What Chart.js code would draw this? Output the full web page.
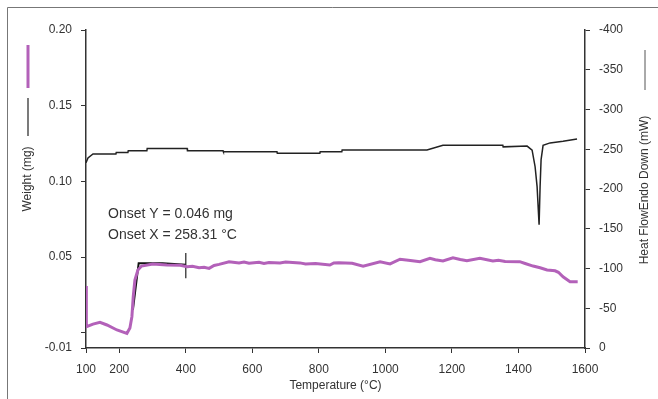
<!DOCTYPE html>
<html>
<head>
<meta charset="utf-8">
<script src="https://cdn.jsdelivr.net/npm/chart.js@4.4.1/dist/chart.umd.min.js"></script>
<style>
  html, body { margin: 0; padding: 0; background: #fff; }
  #wrap { width: 658px; height: 399px; }
</style>
</head>
<body>
<div id="wrap"><canvas id="tgaChart" width="658" height="399"></canvas></div>
<script>
// temperature ticks on the x axis
const tempTicks = [100, 200, 400, 600, 800, 1000, 1200, 1400, 1600];
const weightTicks = [-0.01, 0, 0.05, 0.10, 0.15, 0.20];

// weight curve (mg)
const weightTemp = [100, 101, 121, 142, 163, 193, 223, 232, 238, 242, 247, 256, 267, 301, 343, 383,
  404, 420, 440, 455, 470, 485, 500, 530, 560, 575, 590, 620, 635, 650, 683, 700, 743, 760, 790, 833, 845, 860, 900, 933, 984, 1014, 1044,
  1075, 1104, 1134, 1150, 1173, 1203, 1225, 1245, 1284, 1323, 1340, 1360, 1404, 1420, 1444, 1465, 1486, 1510, 1520, 1534, 1555, 1578];
const weightVal = [0.031, 0.004, 0.0058, 0.0070, 0.0052, 0.0019, -0.0003, 0.0032, 0.0107, 0.0239, 0.0349, 0.0415, 0.0441, 0.0455, 0.0448, 0.0446,
  0.0437, 0.0440, 0.0430, 0.0433, 0.0426, 0.0445, 0.0452, 0.0470, 0.0462, 0.0468, 0.0460, 0.0466, 0.0458, 0.0465, 0.0462, 0.0468, 0.0462, 0.0455, 0.0458, 0.0448, 0.0462, 0.0463, 0.0460, 0.0441, 0.0470, 0.0455, 0.0486,
  0.0478, 0.0470, 0.0492, 0.0483, 0.0475, 0.0496, 0.0484, 0.0476, 0.0492, 0.0475, 0.0480, 0.0472, 0.0470, 0.0458, 0.0441, 0.0430, 0.0415, 0.0410, 0.0400, 0.0370, 0.0338, 0.0338];

// heat flow curve (mW)
const heatTemp = [100, 106, 121, 190, 191, 226, 227, 283, 284, 404, 405, 512, 513, 674, 675, 803, 804, 869, 870,
  1125, 1173, 1353, 1354, 1426, 1441, 1450, 1456, 1462, 1465, 1468, 1474, 1495, 1534, 1576];
const heatVal = [-233, -239, -244, -244, -246, -246, -248, -248, -251, -251, -248, -248, -247, -247, -245, -245, -247, -247, -249,
  -249, -255, -255, -253, -254, -249, -228, -203, -155, -203, -237, -255, -258, -260, -263];

// onset construction
const onsetTemp = [241, 258.31, 330, 400];
const onsetVal = [0.0152, 0.046, 0.046, 0.045];
const markerTemp = [400, 400];
const markerVal = [0.0527, 0.036];

const onsetLines = ['Onset Y = 0.046 mg', 'Onset X = 258.31 \u00b0C'];

function pts(xs, ys) { return xs.map((x, i) => ({ x: x, y: ys[i] })); }

const FONT = 'Liberation Sans, Arial, sans-serif';
const PURPLE = '#b361b9';

const extras = {
  id: 'extras',
  afterDraw(chart) {
    const c = chart.ctx;
    c.save();
    // outer frame
    c.strokeStyle = '#777';
    c.lineWidth = 1;
    c.beginPath();
    c.moveTo(7.5, 399); c.lineTo(7.5, 7.5); c.lineTo(658, 7.5);
    c.stroke();

    // left title with legend lines
    c.lineWidth = 3;
    c.strokeStyle = PURPLE;
    c.beginPath(); c.moveTo(28, 45); c.lineTo(28, 88); c.stroke();
    c.lineWidth = 1.3;
    c.strokeStyle = '#333';
    c.beginPath(); c.moveTo(28, 98); c.lineTo(28, 136); c.stroke();
    c.fillStyle = '#333';
    c.font = '12px ' + FONT;
    c.textAlign = 'center';
    c.textBaseline = 'middle';
    c.save(); c.translate(28, 179); c.rotate(-Math.PI / 2); c.fillText('Weight (mg)', 0, 0); c.restore();

    // right title
    c.strokeStyle = '#555';
    c.lineWidth = 1;
    c.beginPath(); c.moveTo(645, 50); c.lineTo(645, 90); c.stroke();
    c.save(); c.translate(645, 190); c.rotate(-Math.PI / 2); c.fillText('Heat FlowEndo Down (mW)', 0, 0); c.restore();

    // onset annotation
    c.font = '14px ' + FONT;
    c.textAlign = 'left';
    c.fillText(onsetLines[0], 108, 214);
    c.fillText(onsetLines[1], 108, 235);
    c.restore();
  }
};

new Chart(document.getElementById('tgaChart'), {
  type: 'line',
  data: {
    datasets: [
      { data: pts(weightTemp, weightVal), yAxisID: 'y', borderColor: PURPLE, borderWidth: 3, pointRadius: 0, tension: 0 },
      { data: pts(heatTemp, heatVal), yAxisID: 'y2', borderColor: '#222', borderWidth: 1.5, pointRadius: 0, tension: 0 },
      { data: pts(onsetTemp, onsetVal), yAxisID: 'y', borderColor: '#111', borderWidth: 2, pointRadius: 0, tension: 0 },
      { data: pts(markerTemp, markerVal), yAxisID: 'y', borderColor: '#222', borderWidth: 1.2, pointRadius: 0, tension: 0 }
    ]
  },
  options: {
    responsive: false,
    animation: false,
    layout: { padding: { top: 30, left: 0, right: 0, bottom: 0 } },
    plugins: { legend: { display: false }, tooltip: { enabled: false } },
    scales: {
      x: {
        type: 'linear', min: 100, max: 1600,
        afterBuildTicks: s => { s.ticks = tempTicks.map(v => ({ value: v })); },
        afterFit: s => { s.height = 51; },
        border: { display: true, color: '#333', width: 1.5 },
        grid: { drawOnChartArea: false, drawTicks: true, tickLength: 5, color: '#333' },
        ticks: { color: '#333', font: { family: FONT, size: 12 }, padding: 9, maxRotation: 0,
          callback: v => String(v) },
        title: { display: true, text: 'Temperature (\u00b0C)', color: '#333', font: { family: FONT, size: 12 }, padding: { top: 0, bottom: 6 } }
      },
      y: {
        type: 'linear', position: 'left', min: -0.01, max: 0.20,
        afterBuildTicks: s => { s.ticks = weightTicks.map(v => ({ value: v })); },
        afterFit: s => { s.width = 86; },
        border: { display: true, color: '#333', width: 1.5 },
        grid: { drawOnChartArea: false, drawTicks: true, tickLength: 5, color: '#333' },
        ticks: { color: '#333', font: { family: FONT, size: 12 }, padding: 9,
          callback: v => (Math.abs(v) < 1e-9 ? '' : v.toFixed(2)) }
      },
      y2: {
        type: 'linear', position: 'right', min: -400, max: 0, reverse: true,
        afterFit: s => { s.width = 73; },
        border: { display: true, color: '#333', width: 1.5 },
        grid: { drawOnChartArea: false, drawTicks: true, tickLength: 5, color: '#333' },
        ticks: { color: '#333', font: { family: FONT, size: 12 }, padding: 9, stepSize: 50 }
      }
    }
  },
  plugins: [extras]
});
</script>
</body>
</html>
